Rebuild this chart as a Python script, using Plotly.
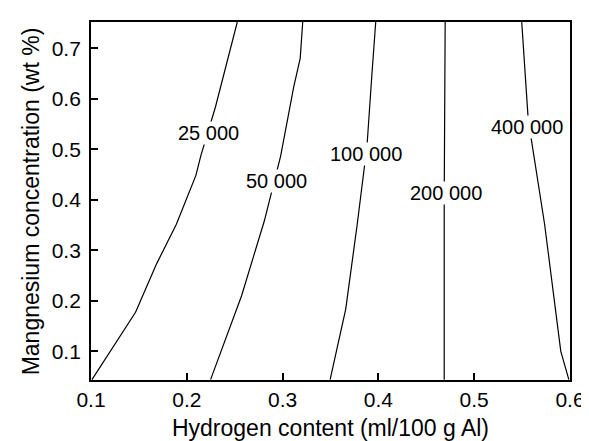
import plotly.graph_objects as go

# Contour lines (hydrogen content vs magnesium concentration)
c25_x = [0.101, 0.1465, 0.1687, 0.1891, 0.2095, 0.2146, 0.2299, 0.2429, 0.2527]
c25_y = [0.044, 0.1774, 0.2742, 0.3516, 0.4484, 0.4870, 0.5838, 0.6806, 0.7520]

c50_x = [0.2248, 0.2571, 0.2809, 0.2894, 0.2980, 0.3115, 0.3184, 0.3210]
c50_y = [0.044, 0.2097, 0.3580, 0.4226, 0.4870, 0.6226, 0.6806, 0.7520]

c100_x = [0.3496, 0.3659, 0.3779, 0.3881, 0.3932, 0.3972]
c100_y = [0.044, 0.1838, 0.3516, 0.5064, 0.6480, 0.752]

c200_x = [0.4687, 0.4687, 0.4697]
c200_y = [0.044, 0.400, 0.752]

c400_x = [0.5988, 0.5904, 0.5735, 0.5564, 0.5496]
c400_y = [0.044, 0.100, 0.3516, 0.5587, 0.752]

contour_labels = ["25 000", "50 000", "100 000", "200 000", "400 000"]
label_x = [0.2222, 0.2940, 0.3868, 0.4702, 0.5547]
label_y = [0.5322, 0.4370, 0.4900, 0.4130, 0.5436]

x_ticks = [0.1, 0.2, 0.3, 0.4, 0.5, 0.6]
y_ticks = [0.1, 0.2, 0.3, 0.4, 0.5, 0.6, 0.7]

x_title = "Hydrogen content (ml/100 g Al)"
y_title = "Mangnesium concentration (wt %)"

FONT = "Liberation Sans, Arial, sans-serif"

fig = go.Figure()
for xs, ys in [(c25_x, c25_y), (c50_x, c50_y), (c100_x, c100_y),
               (c200_x, c200_y), (c400_x, c400_y)]:
    fig.add_trace(go.Scatter(x=xs, y=ys, mode="lines",
                             line=dict(color="black", width=1.2),
                             showlegend=False, hoverinfo="skip"))

for t, lx, ly in zip(contour_labels, label_x, label_y):
    fig.add_annotation(x=lx, y=ly, text=t, showarrow=False,
                       font=dict(family=FONT, size=20, color="black"),
                       bgcolor="white", borderpad=0)

axis_common = dict(
    showgrid=False, zeroline=False, showline=True, linecolor="black",
    linewidth=1.8, mirror=True, ticks="inside", ticklen=7, tickwidth=1.5,
    tickcolor="black", tickfont=dict(family=FONT, size=21, color="black"),
)

fig.update_xaxes(range=[0.1, 0.6], tickvals=x_ticks,
                 ticktext=[f"{v:.1f}" for v in x_ticks],
                 title=dict(text=x_title,
                            font=dict(family=FONT, size=23, color="black"),
                            standoff=10),
                 **axis_common)
fig.update_yaxes(range=[0.0433, 0.752], tickvals=y_ticks,
                 ticktext=[f"{v:.1f}" for v in y_ticks],
                 ticklabelstandoff=4,
                 **axis_common)

# y-axis title placed as a rotated annotation
fig.add_annotation(xref="paper", yref="paper", x=-0.1245, y=0.5,
                   xanchor="center", yanchor="middle", textangle=-90,
                   text=y_title, showarrow=False,
                   font=dict(family=FONT, size=23, color="black"))

fig.update_layout(
    width=589, height=441,
    margin=dict(l=83, r=16, t=13, b=62),
    paper_bgcolor="white", plot_bgcolor="white",
    showlegend=False,
)

fig.write_html("out.html")
